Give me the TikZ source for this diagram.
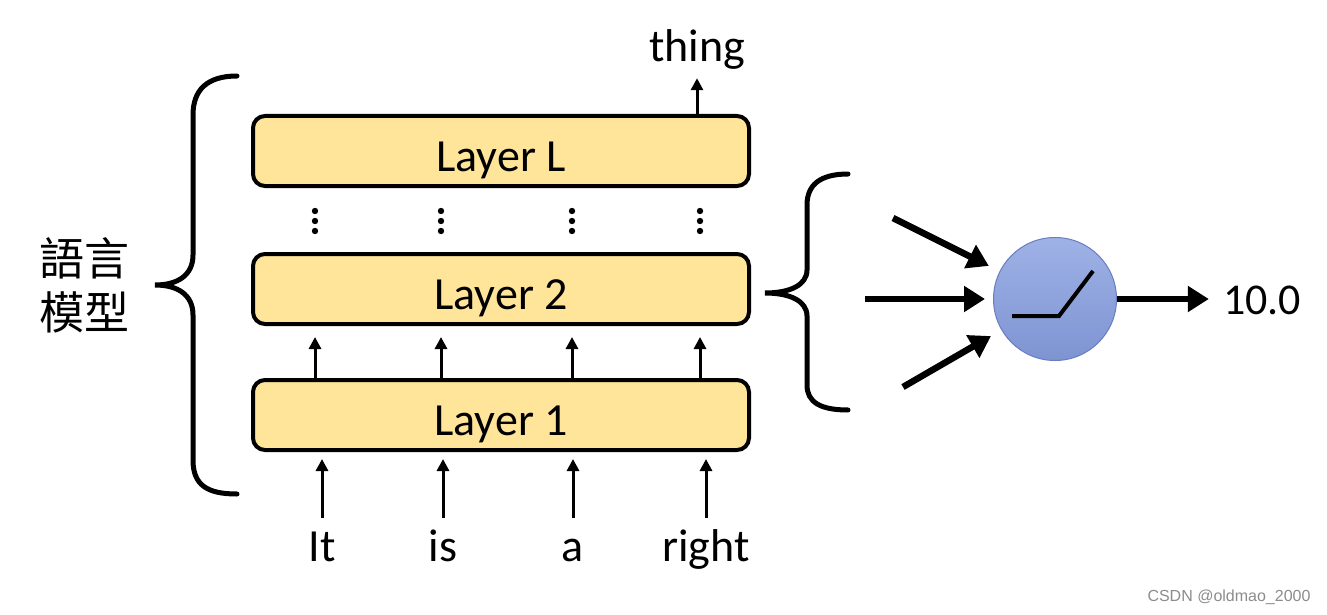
\documentclass[tikz,border=0pt]{standalone}
\usepackage{fontspec}
\setmainfont{Carlito}
\newfontfamily\cjkfont{Noto Sans CJK TC}
\newfontfamily\markfont{Liberation Sans}
\usepackage{tikz}
\usetikzlibrary{arrows.meta,calc}
\definecolor{layergold}{RGB}{255,229,153}
\definecolor{celltop}{RGB}{158,178,230}
\definecolor{cellbot}{RGB}{126,148,210}
\definecolor{celledge}{RGB}{105,125,192}
\tikzset{
  px/.style={x=1pt, y=-1pt},
  n layer/.style={draw, line width=4pt, rounded corners=12pt, fill=layergold, minimum width=496pt, minimum height=70pt, inner sep=0pt, text height=40pt, text depth=0pt, font=\fontsize{46}{52}\selectfont},
  n word/.style={anchor=base, inner sep=2pt, text height=34pt, text depth=10pt, font=\fontsize{46}{52}\selectfont},
  n cjk/.style={align=center, inner sep=0pt, font=\cjkfont\fontsize{45}{54}\selectfont},
  n cell/.style={circle, draw=celledge, line width=1pt, top color=celltop, bottom color=cellbot, minimum size=123pt, inner sep=0pt},
  n mark/.style={inner sep=0pt, text=black!45, font=\markfont\fontsize{16}{18}\selectfont},
  n arr/.style={-{Triangle[length=12pt, width=12pt]}, line width=3pt},
  n big arr/.style={-{Triangle[length=21pt, width=25pt]}, line width=6.5pt},
  n brace/.style={line width=5pt, line cap=round},
  n relu/.style={line width=4pt, line join=miter},
}

\begin{document}
\begin{tikzpicture}[px]
\useasboundingbox (0,0) rectangle (1327,615);
\fill[white] (0,0) rectangle (1327,615);
% layers
\node[n layer] (lay1) at (501,415) {Layer 1};
\node[n layer] (lay2) at (501,289) {Layer 2};
\node[n layer] (layL) at (501,151) {Layer L};
% tokens
\node[n word] (w1) at (322,561) {It};
\node[n word] (w2) at (443,561) {is};
\node[n word] (w3) at (573,561) {a};
\node[n word] (w4) at (706,561) {right};
\node[n word] (next) at (697,62) {thing};
\node[n cjk] (lm) at (84,285) {語言\\模型};
% neuron
\node[n cell] (cell) at (1055,299) {};
\node[n word, font=\fontsize{44}{50}\selectfont] (res) at (1262,314) {10.0};
\coordinate (in1) at (893,218);
\coordinate (in2) at (865,299);
\coordinate (in3) at (903,387);
\node[n mark] (wm) at (1229,597) {CSDN @oldmao\_2000};
% columns between layers
\foreach \x [count=\i] in {315,441,572,700} {
  \coordinate (col\i) at (\x,0);
  \draw[n arr, shorten >=11pt] (lay1.north -| col\i) -- (lay2.south -| col\i);
  \foreach \y in {211,221,231} \fill (\x,\y) circle (3.2pt);
}
\foreach \i in {1,...,4} \draw[n arr, shorten <=7pt, shorten >=7pt] (w\i.north) -- (lay1.south -| w\i);
\draw[n arr, shorten >=4pt] (layL.north -| next) -- (next.south);
% braces
\draw[n brace] (237,76) .. controls (207,76) and (193,90) .. (193,115) -- (193,255)
  .. controls (193,275) and (178,285) .. (155,285) .. controls (178,285) and (193,295) .. (193,315)
  -- (193,460) .. controls (193,485) and (207,494) .. (237,494);
\draw[n brace] (848,174) .. controls (820,174) and (807,185) .. (807,205) -- (807,270)
  .. controls (807,285) and (790,293) .. (765,293) .. controls (790,293) and (807,301) .. (807,316)
  -- (807,385) .. controls (807,402) and (820,410) .. (848,410);
% inputs and output
\draw[n big arr, shorten >=12pt] (in1) -- (cell);
\draw[n big arr, shorten >=8pt] (in2) -- (cell.west);
\draw[n big arr, shorten >=12pt] (in3) -- (cell);
\draw[n big arr, shorten >=12pt] (cell.east) -- (cell.east -| res.west);
\draw[n relu] ([shift={(-43,17)}]cell.center) -- ++(47,0) -- ++(34,-45);
\end{tikzpicture}
\end{document}
